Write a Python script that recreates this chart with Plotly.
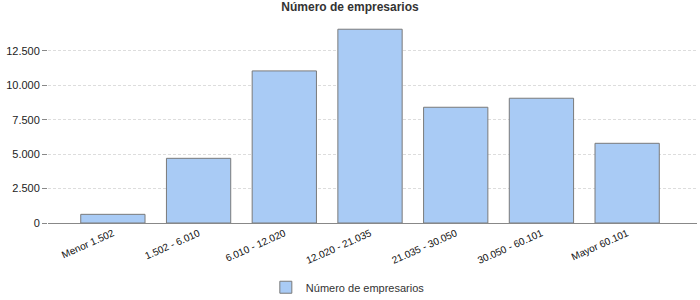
import plotly.graph_objects as go

categories = ["Menor 1.502", "1.502 - 6.010", "6.010 - 12.020", "12.020 - 21.035",
              "21.035 - 30.050", "30.050 - 60.101", "Mayor 60.101"]
values = [630, 4700, 11050, 14080, 8410, 9065, 5790]
series_name = "Número de empresarios"
y_ticks = [0, 2500, 5000, 7500, 10000, 12500]

fig = go.Figure()
fig.add_trace(go.Bar(
    x=categories, y=values, name=series_name,
    marker=dict(color="#a9cbf5", line=dict(color="#7a7a7a", width=1)),
    width=0.75, showlegend=True,
))

fig.update_layout(
    width=700, height=300,
    margin=dict(l=48, r=3, t=20, b=77, autoexpand=False),
    paper_bgcolor="white", plot_bgcolor="white",
    separators=",.",
    font=dict(family="Liberation Sans, Arial, sans-serif", size=10, color="#333333"),
    title=dict(text="<b>Número de empresarios</b>", x=0.5, xanchor="center",
               y=0.99, yanchor="top", font=dict(size=12, color="#333333")),
    showlegend=True,
    legend=dict(orientation="h", x=0.462, xanchor="center", y=-0.245, yanchor="top",
                itemwidth=30, font=dict(size=11, color="#333333")),
    bargap=0.25,
)
fig.update_xaxes(
    type="category", range=[-0.757, 6.815], tickangle=-24, automargin=False,
    showline=True, linecolor="#888888", linewidth=1,
    ticks="", showgrid=False, tickfont=dict(size=10, color="#111111"),
)
fig.update_yaxes(
    range=[0, 14750], tickvals=y_ticks, tickformat=",d", automargin=False,
    showgrid=True, gridcolor="#dddddd", griddash="3px,2px", gridwidth=1,
    zeroline=False, showline=False,
    ticks="outside", ticklen=5, tickcolor="#888888",
    tickfont=dict(size=11, color="#222222"),
)
fig.write_html("out.html")
